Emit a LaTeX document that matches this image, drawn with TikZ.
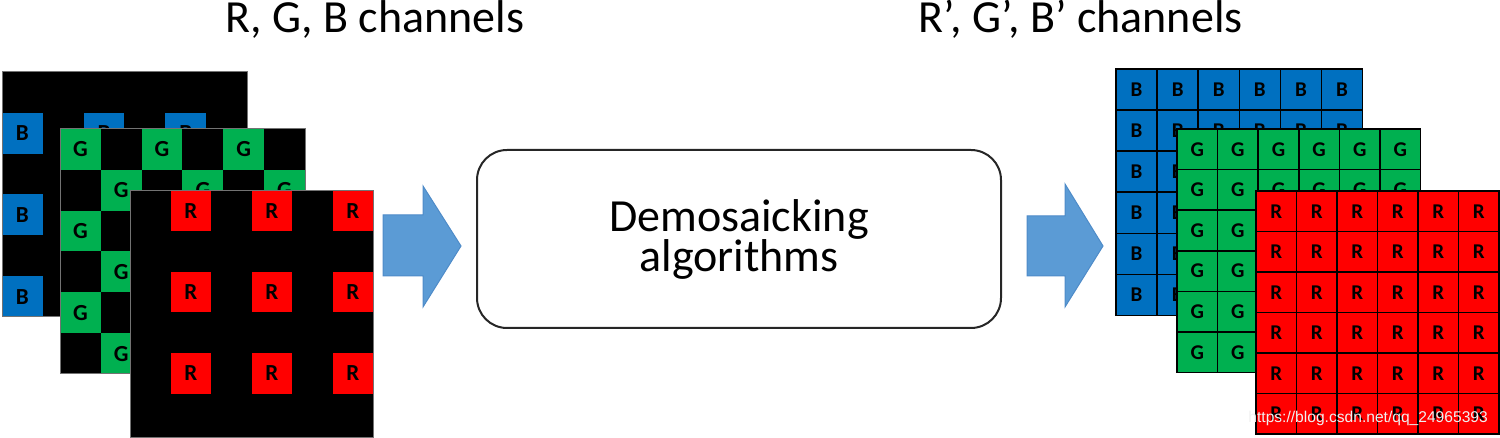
\documentclass[tikz,border=0pt]{standalone}
\usepackage{fontspec}
\setmainfont{Carlito}
\newfontfamily\wmfont{Liberation Sans}
\definecolor{cB}{HTML}{0070C0}
\definecolor{cG}{HTML}{00B050}
\definecolor{cR}{HTML}{FF0000}
\definecolor{arrfill}{HTML}{5B9BD5}
\definecolor{arrline}{HTML}{4E8BC8}
\tikzset{
  planeL/.style={fill=black, draw=black!55, line width=0.5pt},
  cellL/.style={inner sep=0pt, outer sep=0pt, font=\fontsize{11.5}{12}\selectfont\bfseries, text=black},
  cellR/.style={draw=black, line width=0.8pt, inner sep=0pt, outer sep=0pt, font=\fontsize{10.5}{11}\selectfont\bfseries, text=black},
  blockarrow/.style={fill=arrfill, draw=arrline, line width=0.5pt},
  titletext/.style={anchor=base west, inner sep=0pt, font=\fontsize{23}{27}\selectfont},
  algbox/.style={draw=black!85, line width=1pt, rounded corners=15pt, minimum width=262pt, minimum height=89pt, align=center, font=\fontsize{23}{20}\selectfont, inner sep=0pt}
}
\begin{document}
\begin{tikzpicture}[x=0.5pt,y=-0.5pt]
\useasboundingbox (0,0) rectangle (1500,438);

% ---------- left stack (mosaicked) ----------
% blue plane
\def\s{40.83}
\fill[planeL] (2,72) rectangle +(245,245);
\foreach \c in {0,2,4}{\foreach \r in {1,3,5}{
  \node[cellL, fill=cB, minimum size=\s*0.5pt] (lb\c\r) at ({2+(\c+0.5)*\s},{72+(\r+0.5)*\s}) {B};
}}
\draw[draw=black!55, line width=0.5pt] (2,72) rectangle +(245,245);
% green plane
\fill[planeL] (60,129) rectangle +(245,245);
\foreach \c/\r in {0/0,2/0,4/0,1/1,3/1,5/1,0/2,2/2,4/2,1/3,3/3,5/3,0/4,2/4,4/4,1/5,3/5,5/5}{
  \node[cellL, fill=cG, minimum size=\s*0.5pt] (lg\c\r) at ({60+(\c+0.5)*\s},{129+(\r+0.5)*\s}) {G};
}
\draw[draw=black!55, line width=0.5pt] (60,129) rectangle +(245,245);
% red plane
\fill[planeL] (130,191) rectangle +(243,246);
\def\sr{40.5}
\foreach \c in {1,3,5}{\foreach \r in {0,2,4}{
  \node[cellL, fill=cR, minimum size=\sr*0.5pt] (lr\c\r) at ({130+(\c+0.5)*\sr},{191+(\r+0.5)*\sr}) {R};
}}
\draw[draw=black!55, line width=0.5pt] (130,191) rectangle +(243,246);

% ---------- titles ----------
\node[titletext] (t1) at (225,33) {R, G, B channels};
\node[titletext] (t2) at (918,33) {R’, G’, B’ channels};

% ---------- arrows ----------
\fill[blockarrow] (383,215) -- (423,215) -- (423,186) -- (461,246) -- (423,307) -- (423,276) -- (383,276) -- cycle;
\fill[blockarrow] (1027,216) -- (1065,216) -- (1065,184) -- (1103,246) -- (1065,307) -- (1065,276) -- (1027,276) -- cycle;

% ---------- algorithm box ----------
\node[algbox] (alg) at (739,239) {Demosaicking\\algorithms};

% ---------- right stack (full) ----------
\def\sa{41.1}
\foreach \c in {0,...,5}{\foreach \r in {0,...,5}{
  \node[cellR, fill=cB, minimum size=\sa*0.5pt] (rb\c\r) at ({1116+(\c+0.5)*\sa},{69+(\r+0.5)*\sa}) {B};
}}
\def\sb{40.6}
\foreach \c in {0,...,5}{\foreach \r in {0,...,5}{
  \node[cellR, fill=cG, minimum size=\sb*0.5pt] (rg\c\r) at ({1177+(\c+0.5)*\sb},{129+(\r+0.5)*\sb}) {G};
}}
\def\sc{40.5}
\foreach \c in {0,...,5}{\foreach \r in {0,...,5}{
  \node[cellR, fill=cR, minimum size=\sc*0.5pt] (rr\c\r) at ({1256+(\c+0.5)*\sc},{191+(\r+0.5)*\sc}) {R};
}}

% ---------- watermark ----------
\node[anchor=west, inner sep=0pt, text=white!88!gray, font=\wmfont\fontsize{7.8}{8}\selectfont] (wm) at (1248,418) {https://blog.csdn.net/qq\_24965393};
\end{tikzpicture}
\end{document}
